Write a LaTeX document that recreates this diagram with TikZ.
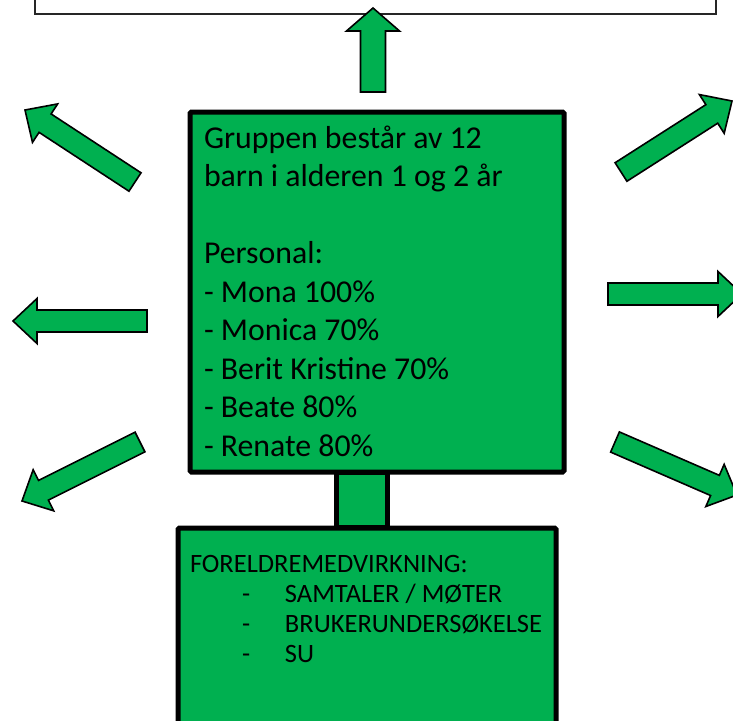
\documentclass[tikz,border=0pt]{standalone}
\usepackage{fontspec}
\setmainfont{Carlito}
\usetikzlibrary{calc}
\definecolor{offgreen}{RGB}{0,176,80}
\newcommand\blockarrow[5]{%
  \coordinate (#1-b) at ($(#1-p)!#5!(#1-t)$);
  \draw[garrow] ($(#1-t)!#3!-90:(#1-p)$) -- ($(#1-b)!#3!-90:(#1-p)$) -- ($(#1-b)!#4!-90:(#1-p)$) -- (#1-p) -- ($(#1-b)!#4!90:(#1-p)$) -- ($(#1-b)!#3!90:(#1-p)$) -- ($(#1-t)!#3!90:(#1-p)$) -- cycle;}
\begin{document}
\begin{tikzpicture}[x=1pt,y=-1pt,
  garrow/.style={draw=black, fill=offgreen, line width=1.6pt, line join=miter},
  greenbox/.style={draw=black, fill=offgreen, line width=5pt, rounded corners=1.5pt, outer sep=0pt, inner sep=0pt},
  topbox/.style={draw=black!85, fill=white, line width=1.2pt, outer sep=0pt, inner sep=0pt},
  maintext/.style={font=\fontsize{31.8pt}{38.5pt}\selectfont, align=left, inner sep=0pt, outer sep=0pt, text=black},
  lowtext/.style={font=\fontsize{26.5pt}{30pt}\selectfont, align=left, inner sep=0pt, outer sep=0pt, text=black}]
\path[use as bounding box, clip] (0,0) rectangle (733,720);
\fill[white] (0,0) rectangle (733,720);
% top box (cut by the page edge)
\node[topbox, anchor=south west, minimum width=681pt, minimum height=40pt] (top) at (35,14) {};
% neck between the two green boxes
\node[greenbox, rounded corners=0pt, anchor=north west, minimum width=51pt, minimum height=55pt] (neck) at (336,472) {};
% main box
\node[greenbox, anchor=north west, minimum width=374pt, minimum height=360pt] (main) at (190,112) {};
% bottom box
\node[greenbox, anchor=north west, minimum width=378pt, minimum height=240pt] (low) at (178,528) {};
% texts (anchored at the baseline of their last line)
\node[maintext, anchor=base west] (mtext) at (204,456) {Gruppen består av 12\\barn i alderen 1 og 2 år\\[38.5pt]Personal:\\- Mona 100\%\\- Monica 70\%\\- Berit Kristine 70\%\\- Beate 80\%\\- Renate 80\%};
\node[lowtext, anchor=base west] (ltext) at (190,662) {FORELDREMEDVIRKNING:\\\hbox to 95pt{\hspace*{52pt}-\hfil}SAMTALER / MØTER\\\hbox to 95pt{\hspace*{52pt}-\hfil}BRUKERUNDERSØKELSE\\\hbox to 95pt{\hspace*{52pt}-\hfil}SU};
% arrows
\coordinate (up-t) at (373,92);   \coordinate (up-p) at (373,8);
\coordinate (lm-t) at (147,321);  \coordinate (lm-p) at (13,321);
\coordinate (rm-t) at (608,294);  \coordinate (rm-p) at (742,294);
\coordinate (ul-t) at (135,182);  \coordinate (ul-p) at (25,110);
\coordinate (ll-t) at (140,442);  \coordinate (ll-p) at (22,501);
\coordinate (ur-t) at (621,172);  \coordinate (ur-p) at (732,101);
\coordinate (lr-t) at (615,442);  \coordinate (lr-p) at (737,495);
\blockarrow{up}{}{12.5pt}{26.5pt}{23pt}
\blockarrow{lm}{}{11pt}{22.5pt}{24pt}
\blockarrow{rm}{}{11pt}{22.5pt}{24pt}
\blockarrow{ul}{}{11pt}{23pt}{24pt}
\blockarrow{ll}{}{11pt}{23pt}{24pt}
\blockarrow{ur}{}{11pt}{23pt}{24pt}
\blockarrow{lr}{}{11pt}{23pt}{24pt}
\end{tikzpicture}
\end{document}
